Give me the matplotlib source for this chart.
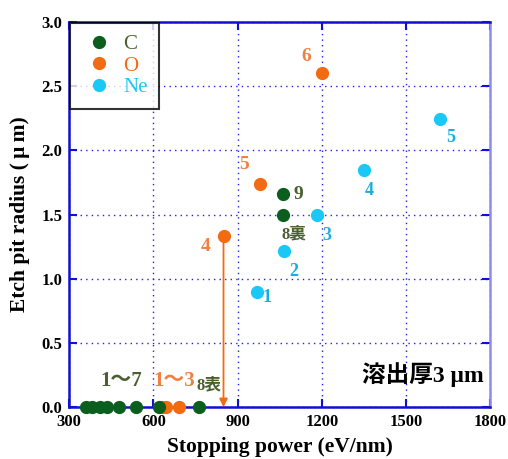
import matplotlib.pyplot as plt
from matplotlib.lines import Line2D

plt.rcParams['font.family'] = ['Liberation Serif', 'Noto Sans CJK JP']

# colours of the three ions
c_col = '#0b5e1e'
o_col = '#f26a12'
ne_col = '#19c8f5'
c_txt = '#4a6030'
o_txt = '#f08040'
ne_txt = '#1aaee0'

# C: zero radius points (1~7 and 8表), plus 9 and 8裏
c_zero_x = [361, 382, 411, 436, 479, 539, 621, 764]
c_x = [1061, 1061]
c_y = [1.66, 1.50]
c_labels = ['9', '8裏']

# O: zero radius points (1~3), plus 4, 5, 6
o_zero_x = [630, 646, 693]
o_x = [850, 979, 1200]
o_y = [1.33, 1.74, 2.60]
o_labels = ['4', '5', '6']

# Ne: 1..5
ne_x = [971, 1064, 1182, 1350, 1621]
ne_y = [0.90, 1.22, 1.50, 1.85, 2.245]
ne_labels = ['1', '2', '3', '4', '5']

xticks = [300, 600, 900, 1200, 1500, 1800]
yticks = [0.0, 0.5, 1.0, 1.5, 2.0, 2.5, 3.0]

fig = plt.figure(figsize=(5.08, 4.59), dpi=100)
ax = fig.add_axes([0.136, 0.113, 0.829, 0.839])

ms = 8.5
ax.plot(o_zero_x, [0] * len(o_zero_x), 'o', color=o_col, ms=ms, clip_on=False, zorder=4)
ax.plot(c_zero_x, [0] * len(c_zero_x), 'o', color=c_col, ms=ms, clip_on=False, zorder=5)
ax.plot(c_x, c_y, 'o', color=c_col, ms=ms, zorder=5)
ax.plot(o_x, o_y, 'o', color=o_col, ms=ms, zorder=5)
ax.plot(ne_x, ne_y, 'o', color=ne_col, ms=ms, zorder=5)

# arrow from O-4 down to the axis
ax.annotate('', xy=(o_x[0], 0.0), xytext=(o_x[0], o_y[0]),
            arrowprops=dict(arrowstyle='-|>', color=o_col, lw=1.3, mutation_scale=12,
                            shrinkA=0, shrinkB=0), zorder=4)

# point labels (offsets in points)
lab_kw = dict(textcoords='offset points', fontweight='bold', ha='center', va='center')
c_off = [(11, 0), (8, -14)]
o_off = [(-13, -7), (-11, 14), (-11, 12)]
ne_off = [(7, -4), (7, -15), (7, -15), (4, -15), (8, -13)]
for x, y, t, off in zip(c_x, c_y, c_labels, c_off):
    fs = 14 if t == '9' else 12
    ax.annotate(t, (x, y), xytext=off, color=c_txt, fontsize=fs, **lab_kw)
for x, y, t, off in zip(o_x, o_y, o_labels, o_off):
    ax.annotate(t, (x, y), xytext=off, color=o_txt, fontsize=14, **lab_kw)
for x, y, t, off in zip(ne_x, ne_y, ne_labels, ne_off):
    ax.annotate(t, (x, y), xytext=off, color=ne_txt, fontsize=13, **lab_kw)

ax.text(487, 0.20, '1～7', color=c_txt, fontsize=15, fontweight='bold', ha='center', va='center')
ax.text(674, 0.20, '1～3', color=o_txt, fontsize=15, fontweight='bold', ha='center', va='center')
ax.text(797, 0.17, '8表', color=c_txt, fontsize=12, fontweight='bold', ha='center', va='center')

ax.text(1778, 0.25, '溶出厚3 μm', fontsize=17, fontweight='bold',
        ha='right', va='center', color='black')

ax.set_xlim(300, 1800)
ax.set_ylim(0, 3.0)
ax.set_xticks(xticks)
ax.set_yticks(yticks)
ax.set_xticklabels([str(v) for v in xticks])
ax.set_yticklabels(['%.1f' % v for v in yticks])
for lbl in ax.get_xticklabels() + ax.get_yticklabels():
    lbl.set_fontweight('bold')
    lbl.set_fontsize(12)

ax.grid(True, color='#2020e0', linestyle=(0, (1, 3)), linewidth=1.0)
ax.tick_params(direction='in', length=6, width=1.5, color='#1010d0',
               top=True, right=True, pad=5)
for side in ['left', 'bottom', 'top']:
    ax.spines[side].set_color('#1010d0')
    ax.spines[side].set_linewidth(1.8)
ax.spines['right'].set_color('#8c8cf0')
ax.spines['right'].set_linewidth(1.8)

ax.set_xlabel('Stopping power (eV/nm)', fontsize=15.5, fontweight='bold', labelpad=5)
ax.set_ylabel('Etch pit radius (\u2009μ\u2009m)', fontsize=15.5, fontweight='bold', labelpad=8)

handles = [Line2D([], [], marker='o', ls='', color=c, ms=ms) for c in [c_col, o_col, ne_col]]
leg = ax.legend(handles, ['C', 'O', 'Ne'], loc='upper left', borderaxespad=0.05,
                frameon=True, fancybox=False, edgecolor='black', fontsize=15,
                handletextpad=0.3, labelspacing=0.1, borderpad=0.55, handlelength=1.7)
leg.get_frame().set_linewidth(1.5)
leg.set_zorder(6)
for txt, c in zip(leg.get_texts(), [c_txt, o_col, ne_col]):
    txt.set_color(c)

plt.savefig('out.png', dpi=100)
